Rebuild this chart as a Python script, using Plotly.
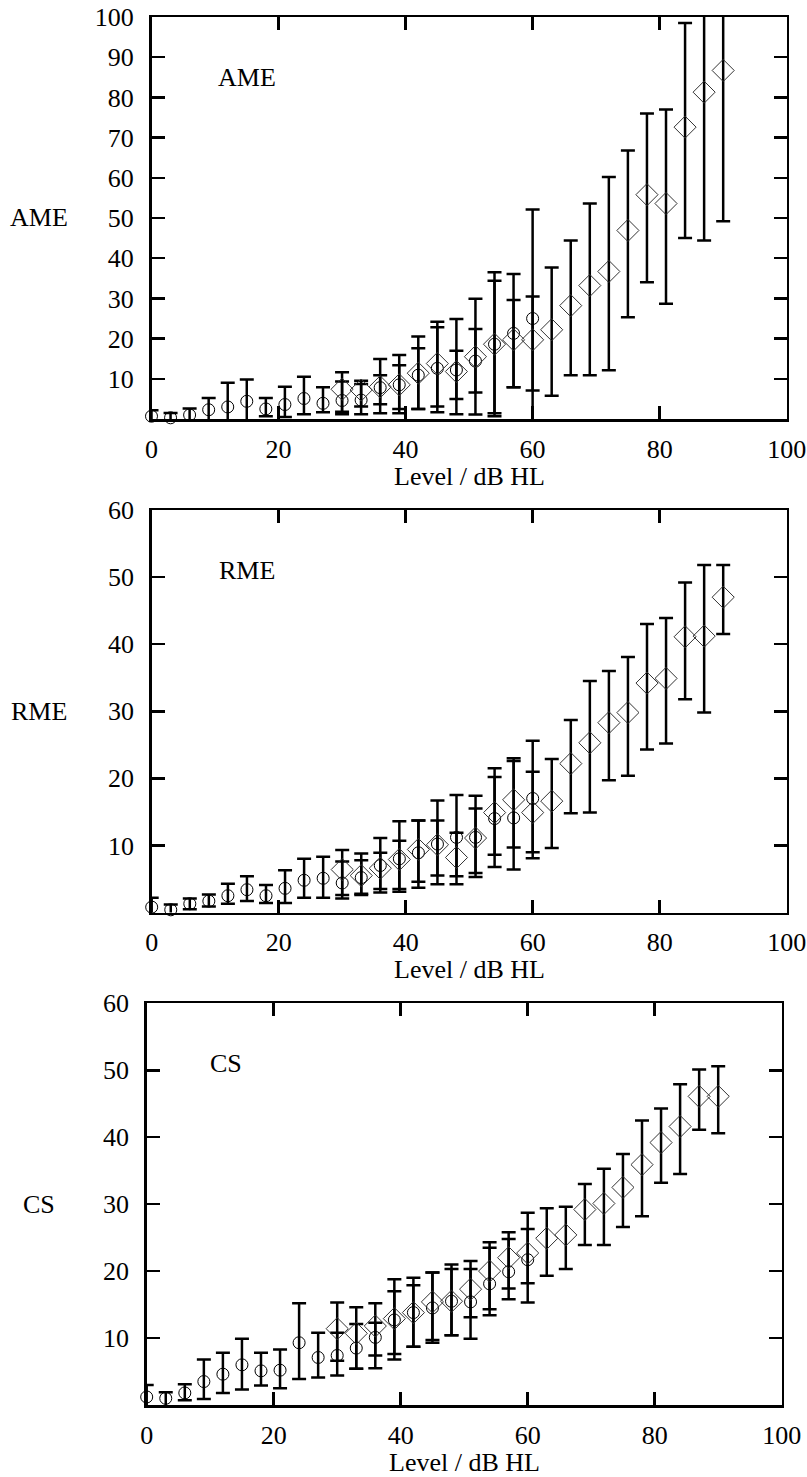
import plotly.graph_objects as go

# ---------------- data ----------------
x_circ = [0, 3, 6, 9, 12, 15, 18, 21, 24, 27, 30, 33, 36, 39, 42, 45, 48, 51, 54, 57, 60]
x_diam = [30, 33, 36, 39, 42, 45, 48, 51, 54, 57, 60, 63, 66, 69, 72, 75, 78, 81, 84, 87, 90]

# AME
ame_c_mean = [0.7, 0.3, 1.0, 2.3, 3.0, 4.4, 2.5, 3.6, 5.1, 3.9, 4.6, 4.7, 7.8, 8.5, 10.9, 12.6, 12.2, 14.4, 18.6, 21.3, 25.0]
ame_c_hi = [2.2, 1.5, 2.6, 5.2, 9.0, 9.8, 5.2, 8.0, 10.5, 7.9, 9.3, 8.7, 10.9, 13.4, 17.6, 22.8, 24.9, 22.4, 36.5, 36.1, 52.1]
ame_c_lo = [-0.8, -0.9, -0.6, -0.6, -3.0, -1.0, 0.7, 0.5, 1.2, 1.7, 1.2, 1.2, 3.7, 2.5, 2.5, 1.7, 1.2, 6.6, 0.7, 7.9, -2.0]
ame_d_mean = [7.4, 7.2, 8.0, 8.5, 11.4, 13.8, 11.8, 15.5, 18.6, 19.7, 19.7, 22.2, 28.2, 33.2, 36.7, 46.9, 55.8, 53.6, 72.6, 81.3, 86.7]
ame_d_hi = [11.6, 9.5, 14.9, 15.9, 20.5, 24.2, 17.0, 29.9, 34.4, 29.6, 30.5, 37.7, 44.4, 53.6, 60.2, 66.8, 76.0, 77.0, 98.5, 118.0, 124.0]
ame_d_lo = [1.8, 3.1, 1.4, 1.4, 2.5, 3.1, 5.0, 1.1, 1.4, 7.9, 7.1, 5.8, 10.9, 10.9, 12.1, 25.3, 34.0, 28.7, 45.0, 44.4, 49.2]

# RME
rme_c_mean = [0.8, 0.4, 1.3, 1.7, 2.5, 3.4, 2.5, 3.6, 4.8, 5.1, 4.4, 5.2, 7.0, 8.0, 8.9, 10.2, 11.2, 11.2, 14.0, 14.1, 17.0]
rme_c_hi = [2.2, 1.2, 2.1, 2.7, 4.3, 5.4, 4.1, 6.3, 8.0, 8.3, 7.6, 7.8, 11.1, 13.6, 13.7, 16.7, 17.5, 17.4, 20.2, 22.6, 25.6]
rme_c_lo = [-0.6, -0.4, 0.5, 0.9, 1.3, 1.7, 1.4, 1.4, 2.2, 2.2, 2.1, 2.6, 3.0, 3.1, 3.7, 4.2, 5.4, 5.3, 6.8, 6.4, 8.1]
rme_d_mean = [6.4, 5.5, 6.6, 7.9, 9.4, 10.1, 8.2, 11.1, 14.9, 16.8, 14.9, 16.6, 22.2, 25.3, 28.3, 29.8, 34.2, 34.9, 41.1, 41.2, 47.0]
rme_d_hi = [9.3, 8.8, 8.9, 10.7, 13.7, 13.7, 11.9, 15.5, 21.5, 23.0, 21.0, 22.9, 28.7, 34.5, 36.0, 38.1, 43.0, 43.9, 49.2, 51.8, 51.8]
rme_d_lo = [2.6, 2.8, 3.5, 3.5, 4.6, 5.5, 4.2, 5.9, 8.6, 9.7, 9.0, 9.6, 14.8, 14.9, 19.7, 20.4, 24.3, 25.2, 31.8, 29.8, 41.5]

# CS
cs_c_mean = [1.2, 1.0, 1.8, 3.5, 4.6, 6.0, 5.1, 5.2, 9.3, 7.1, 7.4, 8.5, 10.1, 12.7, 13.8, 14.5, 15.5, 15.4, 18.1, 19.9, 21.7]
cs_c_hi = [3.0, 1.9, 3.1, 6.8, 7.8, 9.9, 7.8, 8.3, 15.2, 10.8, 10.8, 12.1, 12.3, 17.0, 17.9, 19.8, 20.3, 20.3, 23.5, 24.8, 26.3]
cs_c_lo = [-0.5, -0.2, 0.7, 0.9, 1.8, 2.3, 2.9, 2.5, 3.9, 4.1, 4.4, 5.4, 5.5, 6.8, 8.7, 9.3, 10.4, 9.9, 13.4, 15.8, 15.3]
cs_d_mean = [11.4, 10.7, 11.8, 12.9, 13.8, 15.4, 15.5, 17.3, 20.0, 22.0, 22.7, 24.9, 25.4, 29.2, 30.1, 32.5, 35.9, 39.2, 41.6, 46.1, 46.1]
cs_d_hi = [15.3, 14.6, 15.2, 18.8, 19.0, 19.8, 21.0, 21.5, 24.3, 25.8, 28.7, 29.4, 29.6, 33.0, 35.3, 37.5, 42.5, 44.3, 47.9, 50.1, 50.6]
cs_d_lo = [6.6, 5.4, 7.4, 7.6, 8.7, 9.7, 10.4, 13.1, 14.3, 17.4, 18.2, 19.3, 20.3, 23.9, 23.9, 26.6, 28.2, 33.2, 34.5, 41.1, 40.6]

panel_names = ["AME", "RME", "CS"]
y_max = [100, 60, 60]
y_ticks = [[10, 20, 30, 40, 50, 60, 70, 80, 90, 100], [10, 20, 30, 40, 50, 60], [10, 20, 30, 40, 50, 60]]
x_ticks = [0, 20, 40, 60, 80, 100]
x_title = "Level / dB HL"

# ---------------- figure ----------------
W, H = 807, 1477
FONT = "Liberation Serif, DejaVu Serif, serif"
FS = 26

# pixel boxes of the three panels: (left, right, top, bottom)
boxes = [(151.5, 786.7, 17.0, 419.0), (151.7, 786.7, 510.0, 912.5), (146.7, 781.7, 1003.3, 1405.0)]
label_pos = [(15, 85), (15, 51), (12.5, 51)]

series = [
    (ame_c_mean, ame_c_hi, ame_c_lo, ame_d_mean, ame_d_hi, ame_d_lo),
    (rme_c_mean, rme_c_hi, rme_c_lo, rme_d_mean, rme_d_hi, rme_d_lo),
    (cs_c_mean, cs_c_hi, cs_c_lo, cs_d_mean, cs_d_hi, cs_d_lo),
]

fig = go.Figure()
annotations = []
layout = {}

for i, (name, ymax, yt, box, lp, ser) in enumerate(zip(panel_names, y_max, y_ticks, boxes, label_pos, series), start=1):
    xa = "x" if i == 1 else f"x{i}"
    ya = "y" if i == 1 else f"y{i}"
    cm, ch, cl, dm, dh, dl = ser
    for xs, m, hi, lo, sym, size, col in [
        (x_circ, cm, ch, cl, "circle-open", 12, "black"),
        (x_diam, dm, dh, dl, "diamond-open", 17, "#333333"),
    ]:
        # error bars (clipped to the plot area)
        fig.add_trace(go.Scatter(
            x=xs, y=m, xaxis=xa, yaxis=ya, mode="markers",
            marker=dict(size=2, opacity=0),
            error_y=dict(type="data", symmetric=False,
                         array=[h - v for h, v in zip(hi, m)],
                         arrayminus=[v - l for v, l in zip(m, lo)],
                         color="black", thickness=2.5, width=7),
            cliponaxis=True, showlegend=False, hoverinfo="skip"))
        # markers (not clipped)
        fig.add_trace(go.Scatter(
            x=xs, y=m, xaxis=xa, yaxis=ya, mode="markers",
            marker=dict(symbol=sym, size=size, color=col, line=dict(width=1, color=col)),
            cliponaxis=False, showlegend=False))

    l, r, t, b = box
    xd = [l / W, r / W]
    yd = [1 - b / H, 1 - t / H]
    key = "" if i == 1 else str(i)
    common = dict(showline=True, linewidth=2.5, linecolor="black", mirror="ticks",
                  ticks="inside", ticklen=13, tickwidth=2.5, tickcolor="black",
                  showgrid=False, zeroline=False, automargin=False,
                  ticklabeloverflow="allow",
                  tickfont=dict(family=FONT, size=FS, color="black"))
    layout["xaxis" + key] = dict(domain=xd, range=[0, 100], tickvals=x_ticks,
                                 anchor=ya, ticklabelstandoff=5, **common)
    layout["yaxis" + key] = dict(domain=yd, range=[0, ymax], tickvals=yt,
                                 anchor=xa, ticklabelstandoff=10, **common)
    # panel label inside
    annotations.append(dict(x=lp[0], y=lp[1], xref=xa, yref=ya, text=name, showarrow=False,
                            font=dict(family=FONT, size=FS, color="black"),
                            xanchor="center", yanchor="middle"))
    # y-axis title at left (horizontal)
    annotations.append(dict(x=39 / W, y=1 - ((t + b) / 2) / H, xref="paper", yref="paper",
                            text=name, showarrow=False,
                            font=dict(family=FONT, size=FS, color="black"),
                            xanchor="center", yanchor="middle"))
    # x-axis title
    annotations.append(dict(x=((l + r) / 2) / W, y=1 - (b + 57) / H, xref="paper", yref="paper",
                            text=x_title, showarrow=False,
                            font=dict(family=FONT, size=FS, color="black"),
                            xanchor="center", yanchor="middle"))

fig.update_layout(template="none", width=W, height=H, margin=dict(l=0, r=0, t=0, b=0, autoexpand=False),
                  paper_bgcolor="white", plot_bgcolor="white",
                  font=dict(family=FONT, size=FS, color="black"),
                  hovermode=False,
                  annotations=annotations, **layout)

# remove the default page margin so the figure fills the window exactly
fig.write_html("out.html",
               config={"displayModeBar": False, "staticPlot": True},
               post_script="document.body.style.margin='0px';document.body.style.overflow='hidden';")
